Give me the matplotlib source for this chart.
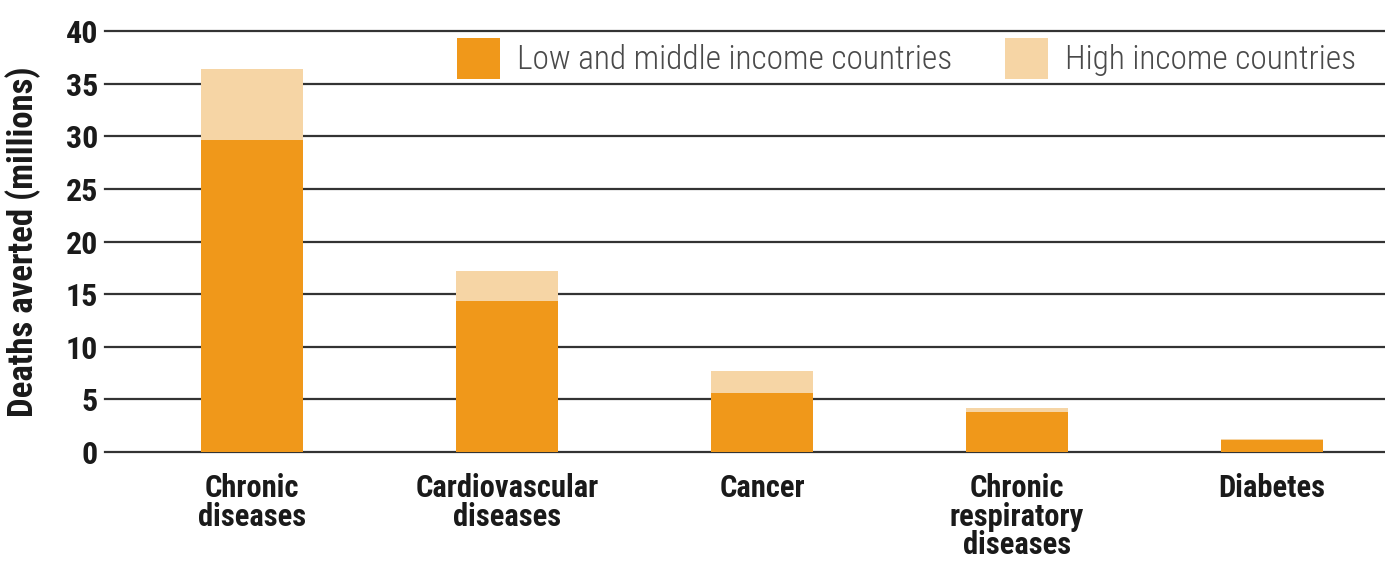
import matplotlib
matplotlib.use('Agg')
import matplotlib.pyplot as plt
from matplotlib.patches import Patch
import numpy as np

categories = ['Chronic\ndiseases', 'Cardiovascular\ndiseases', 'Cancer',
              'Chronic\nrespiratory\ndiseases', 'Diabetes']
low_middle = [29.6, 14.3, 5.6, 3.8, 1.15]
high = [6.8, 2.9, 2.1, 0.4, 0.1]
yticks = [0, 5, 10, 15, 20, 25, 30, 35, 40]

orange = '#f0981a'
peach = '#f6d5a5'
narrow = ['Roboto Condensed', 'DejaVu Sans']

fig = plt.figure(figsize=(13.85, 5.66), dpi=100)
ax = fig.add_axes([105/1385, 114/566, 1280/1385, 421/566])

x = np.arange(len(categories))
ax.bar(x, low_middle, width=0.4, color=orange, zorder=3)
ax.bar(x, high, width=0.4, bottom=low_middle, color=peach, zorder=3)

for v in yticks:
    ax.axhline(v, color='#333333', linewidth=1.6, zorder=1, clip_on=False)

ax.set_xlim(-0.576, 4.443)
ax.set_ylim(0, 40)
ax.set_yticks(yticks)
ax.set_xticks(x)
ax.set_xticklabels(categories, family=narrow, fontweight='bold', fontsize=22,
                   color='#1a1a1a', linespacing=0.95)
ax.set_yticklabels([str(v) for v in yticks], family=narrow, fontweight='bold',
                   fontsize=23, color='#1a1a1a')
ax.tick_params(length=0)
ax.tick_params(axis='y', pad=5)
ax.tick_params(axis='x', pad=15)
for s in ax.spines.values():
    s.set_visible(False)

ax.set_ylabel('Deaths averted (millions)', family=narrow, fontweight='bold',
              fontsize=25, color='#1a1a1a')
ax.yaxis.set_label_coords(-0.05, 0.5)

handles = [Patch(facecolor=orange, label='Low and middle income countries'),
           Patch(facecolor=peach, label='High income countries')]
ax.legend(handles=handles, loc='center left', bbox_to_anchor=(0.262, 0.935),
          ncol=2, frameon=False, borderpad=0, handlelength=1.3, handleheight=1.5,
          handletextpad=0.5, columnspacing=1.58,
          prop={'family': narrow, 'size': 24, 'weight': 300}, labelcolor='#4a4a4a')

fig.savefig('out.png', dpi=100, facecolor='white')
